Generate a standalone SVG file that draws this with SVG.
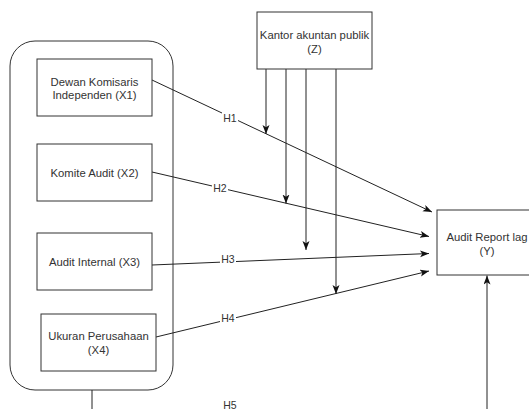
<svg xmlns="http://www.w3.org/2000/svg" width="529" height="409" viewBox="0 0 529 409">
<style>
.box{fill:#fff;stroke:#333;stroke-width:1}
.t{font-family:"Liberation Sans",Arial,sans-serif;font-size:11.3px;fill:#333;text-anchor:middle}
.lbl{font-family:"Liberation Sans",Arial,sans-serif;font-size:10.5px;fill:#333;text-anchor:middle}
.e{fill:none;stroke:#222;stroke-width:1}
.bg{fill:#fff}
</style>
<defs>
<marker id="arr" markerWidth="10" markerHeight="8" refX="9" refY="3.5" orient="auto" markerUnits="userSpaceOnUse">
<path d="M0,0 L9,3.5 L0,7 L2.2,3.5 Z" fill="#111"/>
</marker>
</defs>
<rect width="529" height="409" fill="#fff"/>
<g id="container"><rect x="10" y="41" width="163" height="349" rx="25" ry="25" fill="none" stroke="#333"/></g>
<g id="connectors">
<line class="e" x1="92" y1="390" x2="92" y2="412"/>
<line class="e" x1="152" y1="80" x2="432" y2="212" marker-end="url(#arr)"/>
<line class="e" x1="152" y1="172" x2="429" y2="236.5" marker-end="url(#arr)"/>
<line class="e" x1="152" y1="265" x2="429" y2="253.5" marker-end="url(#arr)"/>
<line class="e" x1="156" y1="337" x2="429" y2="271" marker-end="url(#arr)"/>
<line class="e" x1="266" y1="69" x2="266" y2="134" marker-end="url(#arr)"/>
<line class="e" x1="286" y1="69" x2="286" y2="203.5" marker-end="url(#arr)"/>
<line class="e" x1="306" y1="69" x2="306" y2="250" marker-end="url(#arr)"/>
<line class="e" x1="336" y1="69" x2="336" y2="294" marker-end="url(#arr)"/>
<line class="e" x1="487" y1="412" x2="487" y2="275.5" marker-end="url(#arr)"/>
<rect class="bg" x="222" y="112" width="16" height="11"/>
<text class="lbl" x="230" y="121.5">H1</text>
<rect class="bg" x="212" y="182" width="16" height="11"/>
<text class="lbl" x="220" y="191.5">H2</text>
<rect class="bg" x="220" y="253" width="16" height="11"/>
<text class="lbl" x="228" y="262.5">H3</text>
<rect class="bg" x="220" y="312" width="16" height="11"/>
<text class="lbl" x="228" y="321.5">H4</text>
<text class="lbl" x="230" y="408.5">H5</text>
</g>
<g id="x1"><rect class="box" x="37" y="59" width="115" height="57"/>
<text class="t" x="94.5" y="85.5">Dewan Komisaris</text><text class="t" x="94.5" y="99">Independen (X1)</text></g>
<g id="x2"><rect class="box" x="37" y="144" width="115" height="57"/>
<text class="t" x="94.5" y="176.5">Komite Audit (X2)</text></g>
<g id="x3"><rect class="box" x="37" y="233" width="115" height="57"/>
<text class="t" x="94.5" y="265.5">Audit Internal (X3)</text></g>
<g id="x4"><rect class="box" x="41" y="314" width="115" height="57"/>
<text class="t" x="98.5" y="340">Ukuran Perusahaan</text><text class="t" x="98.5" y="353.5">(X4)</text></g>
<g id="z"><rect class="box" x="257" y="12" width="115" height="57"/>
<text class="t" x="314.5" y="39">Kantor akuntan publik</text><text class="t" x="314.5" y="52.5">(Z)</text></g>
<g id="y"><rect class="box" x="437" y="210" width="110" height="65"/>
<text class="t" x="487" y="241">Audit Report lag</text><text class="t" x="487" y="254.5">(Y)</text></g>
</svg>
